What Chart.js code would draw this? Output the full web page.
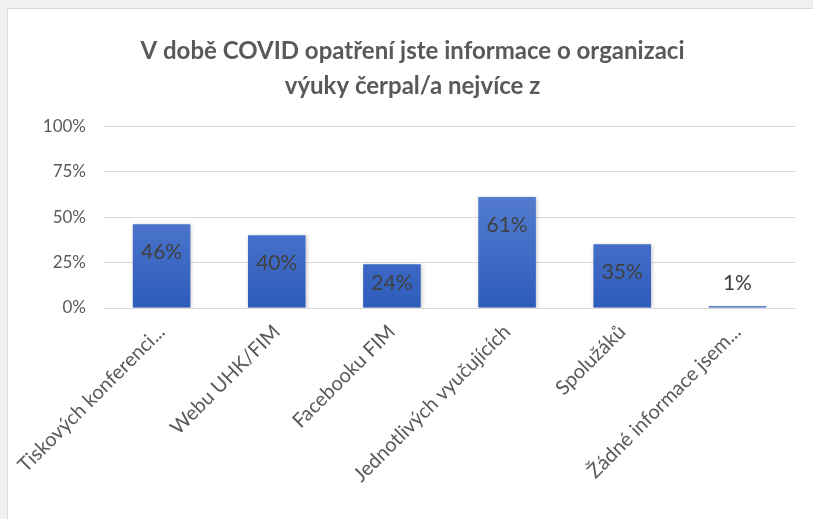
<!DOCTYPE html>
<html>
<head>
<meta charset="utf-8">
<script src="https://cdn.jsdelivr.net/npm/chart.js@4"></script>
<style>
html,body{margin:0;padding:0;background:#f0f0f0;width:813px;height:519px;overflow:hidden;}
#frame{position:absolute;left:7px;top:8px;width:820px;height:530px;background:#fff;border:1px solid #d9d9d9;box-sizing:border-box;}
#c{position:absolute;left:0;top:0;}
</style>
</head>
<body>
<div id="frame"></div>
<canvas id="c" width="813" height="519"></canvas>
<script>
const titleLines = ["V době COVID opatření jste informace o organizaci", "výuky čerpal/a nejvíce z"];
const categories = ["Tiskových konferenci...", "Webu UHK/FIM", "Facebooku FIM", "Jednotlivých vyučujících", "Spolužáků", "Žádné informace jsem..."];
const values = [46, 40, 24, 61, 35, 1];
const yTicks = [0, 25, 50, 75, 100];

const FONT = "Lato, 'Open Sans', sans-serif";

const shadowPlugin = {
  id: 'shadow',
  beforeDatasetsDraw(chart) {
    const ctx = chart.ctx;
    ctx.save();
    ctx.shadowColor = 'rgba(0,0,0,0.22)';
    ctx.shadowBlur = 4;
    ctx.shadowOffsetX = 1;
    ctx.shadowOffsetY = 1;
  },
  afterDatasetsDraw(chart) {
    chart.ctx.restore();
  }
};

const labelPlugin = {
  id: 'barLabels',
  afterDraw(chart) {
    const ctx = chart.ctx;
    const meta = chart.getDatasetMeta(0);
    const base = chart.scales.y.getPixelForValue(0);
    ctx.save();
    ctx.font = "21px " + FONT;
    ctx.fillStyle = '#404040';
    ctx.textAlign = 'center';
    ctx.textBaseline = 'middle';
    meta.data.forEach((bar, i) => {
      const y = Math.min(bar.y + 28, base - 25);
      ctx.fillText(values[i] + '%', bar.x, y);
    });
    ctx.restore();
  }
};

const ctx = document.getElementById('c').getContext('2d');
new Chart(ctx, {
  type: 'bar',
  data: {
    labels: categories,
    datasets: [{
      data: values,
      backgroundColor: (c) => {
        const chart = c.chart;
        const area = chart.chartArea;
        if (!area) return '#4472c4';
        const y0 = chart.scales.y.getPixelForValue(0);
        const g = chart.ctx.createLinearGradient(0, area.top, 0, y0);
        g.addColorStop(0, '#6a90da');
        g.addColorStop(1, '#2e5cbc');
        return g;
      },
      borderWidth: 0,
      categoryPercentage: 1,
      barPercentage: 0.5
    }]
  },
  options: {
    responsive: false,
    animation: false,
    events: [],
    layout: { padding: { left: 30, right: 18, top: 34, bottom: 12 } },
    plugins: {
      legend: { display: false },
      tooltip: { enabled: false },
      title: {
        display: true,
        text: titleLines,
        color: '#595959',
        font: { family: FONT, size: 24, weight: '700', lineHeight: 1.46 },
        padding: { top: 0, bottom: 22 }
      }
    },
    scales: {
      y: {
        min: 0,
        max: 100,
        afterBuildTicks(scale) { scale.ticks = yTicks.map(v => ({ value: v })); },
        afterFit(scale) { scale.width = 74; },
        ticks: {
          callback: (v) => v + '%',
          color: '#595959',
          font: { family: FONT, size: 17 },
          padding: 18
        },
        grid: { color: '#d9d9d9', lineWidth: 1, drawTicks: false },
        border: { display: false }
      },
      x: {
        afterFit(scale) { scale.height = 199; },
        ticks: {
          maxRotation: 45,
          minRotation: 45,
          autoSkip: false,
          color: '#595959',
          font: { family: FONT, size: 20 },
          padding: 12
        },
        grid: { display: false, drawTicks: false },
        border: { display: false }
      }
    }
  },
  plugins: [shadowPlugin, labelPlugin]
});
</script>
</body>
</html>
